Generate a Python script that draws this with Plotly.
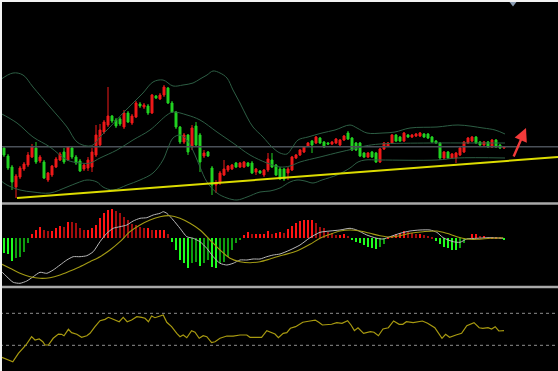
import plotly.graph_objects as go

# ---------------- price panel data (bar index 0..125) ----------------
bar_index = list(range(126))
open_ = [52, 44, 33, 13, 23, 31, 35, 43, 52, 39, 38, 20, 25, 33, 40, 48, 40, 52, 43, 39,
         31, 32, 33, 45, 55, 68, 75, 84, 80, 81, 73, 87, 77, 83, 96, 93, 94, 87, 104, 101,
         105, 112, 97, 88, 73, 58, 65, 53, 74, 65, 44, 48, 32, 15, 17, 25, 30, 31, 37, 33,
         33, 37, 37, 28, 29, 25, 30, 40, 35, 31, 31, 27, 30, 42, 45, 48, 54, 59, 57, 62,
         58, 57, 56, 57, 55, 60, 67, 62, 57, 57, 47, 43, 48, 47, 38, 51, 54, 57, 65, 63,
         59, 65, 63, 64, 64, 66, 66, 63, 59, 57, 42, 48, 42, 42, 45, 48, 57, 59, 63, 58,
         55, 58, 53, 60, 55, 52]
close = [45, 32, 18, 24, 32, 36, 45, 53, 38, 43, 22, 27, 34, 41, 46, 38, 53, 43, 37, 29,
         35, 40, 48, 65, 70, 78, 84, 79, 74, 76, 87, 78, 84, 97, 94, 95, 87, 105, 102, 105,
         113, 97, 88, 73, 58, 65, 48, 72, 55, 38, 47, 44, 15, 17, 27, 31, 34, 35, 33, 37,
         38, 34, 27, 31, 27, 30, 41, 33, 25, 21, 21, 31, 43, 45, 50, 53, 57, 55, 63, 57,
         53, 56, 58, 61, 60, 64, 61, 50, 50, 44, 43, 47, 43, 38, 51, 57, 57, 65, 59, 59,
         67, 63, 65, 66, 67, 63, 62, 58, 57, 42, 48, 42, 46, 47, 52, 58, 62, 63, 57, 55,
         58, 53, 60, 53, 52, 53]
high = [54, 46, 35, 26, 34, 38, 48, 56, 58, 45, 40, 28, 35, 43, 48, 52, 54, 54, 45, 41,
        36, 43, 52, 75, 76, 80, 113, 85, 82, 83, 90, 89, 86, 99, 98, 97, 96, 106, 105, 107,
        115, 113, 99, 89, 74, 67, 66, 75, 78, 67, 50, 49, 34, 20, 29, 40, 35, 36, 38, 38,
        39, 38, 39, 32, 30, 31, 47, 47, 36, 33, 32, 33, 44, 46, 51, 54, 58, 60, 64, 63,
        59, 58, 59, 62, 61, 65, 69, 63, 58, 58, 48, 48, 49, 48, 52, 58, 58, 66, 66, 64,
        68, 66, 66, 67, 68, 67, 67, 64, 60, 58, 49, 49, 47, 48, 53, 59, 63, 64, 64, 59,
        59, 59, 61, 61, 56, 54]
low = [43, 30, 10, 2, 21, 29, 33, 42, 36, 37, 21, 18, 23, 32, 39, 36, 39, 41, 35, 28,
       29, 29, 28, 43, 53, 66, 73, 77, 72, 74, 71, 77, 75, 82, 92, 91, 85, 86, 101, 100,
       103, 96, 87, 71, 56, 56, 45, 50, 53, 28, 42, 43, 5, 7, 15, 24, 28, 30, 32, 32,
       32, 33, 26, 25, 26, 23, 28, 32, 24, 20, 19, 20, 29, 41, 44, 47, 53, 47, 56, 56,
       52, 55, 55, 56, 54, 59, 60, 49, 49, 43, 42, 42, 42, 37, 37, 50, 53, 56, 58, 58,
       58, 62, 62, 63, 63, 62, 61, 57, 56, 40, 41, 41, 41, 37, 44, 47, 56, 58, 56, 54,
       54, 52, 52, 52, 51, 51]

# Bollinger bands (bar index, price)
bb_upper_idx = [-1, 2.25, 4.75, 7.25, 11.5, 15.75, 18.25, 20.75, 22.25, 24, 26.5, 29.75, 32.25,
                34.75, 37.25, 39.75, 42.25, 44.75, 47.25, 49, 50.75, 52.25, 54, 55.75, 57.25,
                59, 60.75, 62.25, 64.75, 67, 69, 70.75, 72, 73.5, 76, 79.5, 82.75, 86.5, 88.25,
                90.75, 94.75, 97.75, 101.5, 108.25, 113.5, 119.75, 122.75, 125.25]
bb_upper = [120, 127, 125, 113, 93, 73, 58, 54, 55, 63, 73, 87, 97, 107, 118, 120, 114, 115, 117,
            121, 125, 129, 127, 122, 110, 97, 83, 73, 63, 53, 47, 46, 52, 60, 63, 67, 70, 75, 72,
            67, 67, 68, 72, 73, 75, 72, 70, 66]
bb_mid_idx = [-1, 3.25, 7.25, 11.5, 15.75, 19, 21.5, 24, 28.25, 32.25, 36.5, 40.75, 42.25, 45.75,
              49, 53.25, 57.25, 61.5, 65.75, 69, 71.5, 74, 79, 84, 87.25, 90.25, 94, 106.5,
              116.5, 125.25]
bb_mid = [87, 77, 63, 53, 40, 37, 37, 42, 50, 60, 70, 85, 88, 85, 80, 68, 57, 45, 37, 33, 34, 38,
          43, 48, 51, 54, 56, 57, 57, 57]
bb_lower_idx = [-1, 0.75, 4, 7.25, 11.5, 15.75, 18.25, 20.75, 23.25, 24.75, 27.25, 30.75, 34,
                37.25, 39.75, 41, 42.25, 44, 45.75, 47.75, 49, 50.75, 53.25, 55.75, 58.25, 60.75,
                64, 66.5, 69, 71.5, 73.25, 75.25, 77.25, 79.5, 83.25, 86.5, 88.5, 90.25, 94,
                108.25, 113.25, 125.25]
bb_lower = [20, 15, 10, 8, 7, 13, 17, 20, 18, 13, 10, 15, 20, 27, 40, 52, 62, 65, 60, 45, 33, 18,
            7, 2, 0, 3, 8, 9, 12, 18, 20, 19, 17, 20, 25, 32, 38, 40, 40, 40, 42, 42]

support_level = 53.3
trend_idx = [3.25, 138.5]
trend_val = [2, 43]
arrow_idx = [127.25, 130.5]
arrow_val = [42, 72]

# ---------------- MACD panel ----------------
hist = [-15, -16, -22.7, -20, -18.3, -13.3, -5,
        4, 8.3, 11.7, 8.3, 7.3, 7.3, 10, 12.7, 11.7, 16.7, 16, 15, 10, 8.3, 8.3, 10, 13.3, 20,
        25, 28.3, 29.3, 27.3, 25, 21.7, 18.3, 14, 13.3, 11.7, 10, 10, 8.3, 8.3, 8.3, 8.3, 4,
        -3.3, -11.7, -21.7, -25, -29.3, -25, -23.3, -27.3, -25, -21.7, -28.3, -30, -25, -23.3,
        -18.3, -11.7, -5, -1.7,
        3.3, 6, 4, 4, 4, 4,
        7.3, 4, 5, 6, 5, 9.3, 12.7, 15, 17.3, 18.3, 18.3, 18.3, 15, 11.7, 10, 6.7, 5, 3.3, 3.3,
        4, 2.7,
        -1.7, -3.3, -5, -6.7, -8.3, -10, -10.7, -8.3, -6,
        1.7, 2.7, 4, 5, 7.3, 6, 5, 4, 4, 3.3, 2.7, 1.7,
        -2.7, -6, -8.3, -10, -11.7, -11.7, -10, -5, -0.7,
        4, 4, 2.7, 2.7, 1.7, 1.7, 1.7, 0.7,
        -1.7]

macd_idx = [-1, 0.7, 2.3, 4, 5.7, 7.3, 9, 10.7, 12.3, 14, 15.7, 17.3, 19, 20.7, 22.3, 24, 25.7,
            27.3, 29, 30.7, 32.3, 34, 35.7, 37.3, 39, 39.8, 40.7, 42.3, 44, 45.7, 47.3, 49, 50.7,
            52.3, 54, 55.7, 57.3, 59, 60.7, 62.3, 64, 65.7, 67.3, 69, 71.5, 74, 76.5, 79, 81.5,
            84, 86.5, 88.2, 90.7, 93.2, 94.8, 96.5, 99, 101.5, 104, 106.5, 108.2, 109.8, 112.3,
            114, 115.7, 118.2, 121.5, 124.8]
macd_line = [-31.7, -38.4, -44, -45, -42.7, -38.4, -34, -35, -31.7, -26.7, -21.7, -18.4, -18.4,
             -17.4, -13.4, -3.4, 5, 10, 11.6, 13.3, 17.3, 20, 20.6, 23.3, 25, 26.6, 25, 18.3, 10,
             1.6, 0, -3.4, -10, -18.4, -25, -26.7, -25, -21.7, -21.7, -20.7, -20.7, -18.4, -16.7,
             -15.7, -11.7, -6.7, 0.6, 6, 7.3, 8.3, 10, 8.3, 3.3, 0, -0.7, 1.6, 5, 7.3, 8.3, 8.3, 6,
             0.6, -3.4, -4, -0.7, 0, 0.6, 0]
signal_idx = [-1, 1.5, 4, 6.5, 9, 11.5, 14, 16.5, 19, 21.5, 24, 26.5, 29, 31.5, 34, 36.5, 39,
              41.5, 44, 46.5, 49, 51.5, 54, 56.5, 59, 61.5, 64, 66.5, 69.8, 73.2, 76.5, 79, 81.5,
              84, 86.5, 89, 91.5, 94, 96.5, 99, 101.5, 104.8, 108.2, 110.7, 113.2, 115.7, 118.2,
              121.5, 124.8]
signal_line = [-25, -30, -35, -38.4, -40, -39.4, -36.7, -32.7, -28.4, -23.4, -18.4, -11.7, -3.4,
               6.6, 13.3, 18.3, 21.6, 22.6, 20, 15, 8.3, -1.7, -11.7, -20, -23.4, -24.4, -23.4,
               -20.7, -16.7, -12.7, -6, 0, 4, 7.3, 8.3, 7.3, 5, 2.6, 1.3, 2.6, 5, 6.6, 7.3, 5, 1.6,
               -0.7, -1, 0, 0.6]

# ---------------- oscillator panel ----------------
rsi_idx = [-1, 2.2, 3.6, 4.7, 5.5, 6.9, 7.75, 8.8, 9.7, 10.25, 11.1, 12.3, 13.6, 14.4, 15, 16.1,
           16.9, 18.2, 19.4, 20.7, 21.5, 22.75, 24, 25.25, 26.1, 27.3, 28.8, 29.8, 30.8, 31.9,
           33.2, 34.4, 35.25, 36.1, 36.9, 37.75, 38.8, 39.8, 40.7, 41.9, 43.2, 44, 44.8, 45.7,
           46.9, 47.75, 48.8, 49.8, 50.7, 51.9, 52.75, 54, 55.7, 57.3, 59, 60.7, 61.5, 63.2,
           64.4, 65.7, 66.9, 67.75, 68.6, 69.8, 70.7, 71.6, 72.9, 74.7, 76.5, 77.8, 78.7, 79.6,
           81.9, 83.2, 84.5, 85.9, 86.75, 87.6, 88.5, 89.9, 91.6, 92.5, 93.6, 94.75, 96.1, 97.4,
           98.8, 99.7, 100.6, 102.3, 104.6, 105.9, 107.7, 109.5, 110.4, 111.4, 113, 114.4,
           115.7, 117.5, 118.8, 119.7, 121, 121.9, 122.8, 123.7, 125]
rsi = [15.8, 9.5, 20, 26.3, 30.4, 40.8, 36.6, 37.9, 34.5, 30.4, 30.4, 38.8, 44.1, 43.8, 42, 50,
       45.8, 43.8, 40, 42, 45, 53.3, 60.8, 62.5, 65, 62.5, 59.5, 65, 59.5, 61.6, 65.8, 65, 63.8,
       59.5, 66.6, 64.5, 65.8, 67.9, 58.8, 53.3, 45, 40.8, 42.9, 39.5, 48.3, 46.3, 38.8, 42,
       40.8, 33.3, 34.5, 38.8, 41.6, 41.6, 42.9, 42.9, 40, 40, 40, 48.3, 45.8, 44.1, 39.5, 45,
       45.8, 51.3, 53.3, 58.8, 60.4, 61.6, 58.8, 55.4, 56.3, 58.3, 57.5, 60.8, 55.4, 48.3, 52,
       45, 47, 46.3, 42, 50.4, 52, 60.4, 56.3, 56.3, 59.5, 58.3, 60.4, 57.5, 52, 38.8, 43.8,
       40, 42.9, 45, 54.5, 58.3, 52, 51.3, 52, 50.4, 53.3, 47.9, 48.3]
rsi_levels = [70, 30]

# ---------------- styling ----------------
UP, DOWN = '#f01a1a', '#22d422'
BAND = '#2d5e44'

hist_colors = []
for i, v in enumerate(hist):
    prev = hist[i - 1] if i > 0 else 0
    growing = abs(v) >= abs(prev) or (v >= 0) != (prev >= 0)
    if v >= 0:
        hist_colors.append('#ff1414' if growing else '#a30d0d')
    else:
        hist_colors.append('#1eff1e' if growing else '#0f9e0f')

fig = go.Figure()

x_span = [bar_index[0] - 1, trend_idx[1]]

# price panel
fig.add_trace(go.Scatter(x=x_span, y=[support_level, support_level], mode='lines',
                         line=dict(color='#4a5058', width=1.6), hoverinfo='skip'))
for bx, by in [(bb_upper_idx, bb_upper), (bb_mid_idx, bb_mid), (bb_lower_idx, bb_lower)]:
    fig.add_trace(go.Scatter(x=bx, y=by, mode='lines',
                             line=dict(color=BAND, width=1, shape='spline', smoothing=1.0),
                             hoverinfo='skip'))
fig.add_trace(go.Candlestick(x=bar_index, open=open_, high=high, low=low, close=close,
                             increasing=dict(line=dict(color=UP, width=1), fillcolor=UP),
                             decreasing=dict(line=dict(color=DOWN, width=1), fillcolor=DOWN),
                             whiskerwidth=0))
fig.add_trace(go.Scatter(x=trend_idx, y=trend_val, mode='lines',
                         line=dict(color='#dcdc00', width=2), hoverinfo='skip'))
fig.add_trace(go.Scatter(x=[arrow_idx[0]], y=[197.5], mode='markers',
                         marker=dict(symbol='triangle-down', size=8, color='#8a9cb2'),
                         hoverinfo='skip', cliponaxis=False))

# MACD panel
fig.add_trace(go.Bar(x=bar_index, y=hist, marker=dict(color=hist_colors, line=dict(width=0)),
                     width=0.42, yaxis='y2'))
fig.add_trace(go.Scatter(x=macd_idx, y=macd_line, mode='lines', yaxis='y2',
                         line=dict(color='#b9b9b9', width=1, shape='spline', smoothing=0.6)))
fig.add_trace(go.Scatter(x=signal_idx, y=signal_line, mode='lines', yaxis='y2',
                         line=dict(color='#a39b14', width=1.1, shape='spline', smoothing=0.8)))

# oscillator panel
for lv in rsi_levels:
    fig.add_trace(go.Scatter(x=x_span, y=[lv, lv], mode='lines', yaxis='y3',
                             line=dict(color='#8c8c8c', width=1, dash='dot'), hoverinfo='skip'))
fig.add_trace(go.Scatter(x=rsi_idx, y=rsi, mode='lines', yaxis='y3',
                         line=dict(color='#a89a10', width=1.2)))

fig.add_annotation(x=arrow_idx[1], y=arrow_val[1], ax=arrow_idx[0], ay=arrow_val[0],
                   xref='x', yref='y', axref='x', ayref='y', text='', showarrow=True,
                   arrowhead=2, arrowsize=1.1, arrowwidth=2.4, arrowcolor='#f23a3a')

H = 371.0
shapes = [
    dict(type='line', xref='paper', yref='paper', x0=0, x1=1, y0=1 - 203.5 / H, y1=1 - 203.5 / H,
         line=dict(color='#a9a9a9', width=2.5)),
    dict(type='line', xref='paper', yref='paper', x0=0, x1=1, y0=1 - 287 / H, y1=1 - 287 / H,
         line=dict(color='#a9a9a9', width=2.5)),
    dict(type='rect', xref='paper', yref='paper', x0=0, x1=2 / 558, y0=0, y1=1,
         fillcolor='#f2f2f2', line=dict(width=0)),
    dict(type='rect', xref='paper', yref='paper', x0=0, x1=1, y0=1 - 2 / H, y1=1,
         fillcolor='#f2f2f2', line=dict(width=0)),
]

fig.update_layout(
    width=558, height=371, autosize=False,
    margin=dict(l=0, r=0, t=0, b=0, pad=0),
    paper_bgcolor='black', plot_bgcolor='black',
    showlegend=False, bargap=0, hovermode=False,
    shapes=shapes,
    xaxis=dict(range=[-1, 138.5], domain=[0, 1], visible=False, showgrid=False, zeroline=False,
               rangeslider=dict(visible=False), fixedrange=True),
    yaxis=dict(domain=[1 - 202 / H, 1], range=[-2, 200], visible=False, showgrid=False,
               zeroline=False, fixedrange=True),
    yaxis2=dict(domain=[1 - 286 / H, 1 - 205 / H], range=[-47.7, 33.3], visible=False,
                showgrid=False, zeroline=False, anchor='x', fixedrange=True),
    yaxis3=dict(domain=[0, 1 - 289 / H], range=[-2.1, 100.4], visible=False, showgrid=False,
                zeroline=False, anchor='x', fixedrange=True),
)

page_js = ("document.documentElement.style.margin='0';document.body.style.margin='0';"
           "document.body.style.padding='0';document.body.style.background='black';"
           "document.body.style.overflow='hidden';")
fig.write_html("out.html", config=dict(displayModeBar=False), post_script=page_js)
